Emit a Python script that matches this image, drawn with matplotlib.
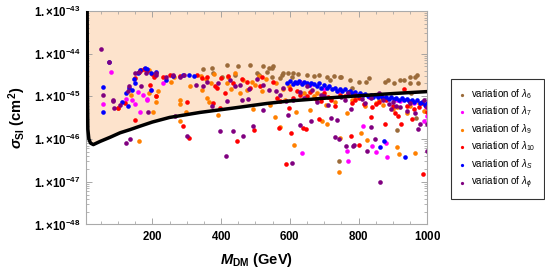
import matplotlib
matplotlib.use("Agg")
import matplotlib.pyplot as plt
from matplotlib.ticker import MultipleLocator, LogLocator, NullFormatter, FixedLocator

plt.rcParams.update({
    "font.family": "Liberation Sans",
    "mathtext.fontset": "custom",
    "mathtext.rm": "Liberation Sans",
    "mathtext.it": "Liberation Sans:italic",
    "mathtext.bf": "Liberation Sans:bold",
    "mathtext.bfit": "Liberation Sans:bold:italic",
})

SCALE = 1e-46  # sigma values below are in units of 1e-46 cm^2

# limit curve
curve_m = [10, 10.5, 11, 12, 15, 20, 28, 48, 77, 106, 135, 164, 200, 250, 339, 435, 533, 600, 700, 800, 900, 1000]
curve_s = [1000, 72, 8.3, 1.7, 1.0, 0.8, 0.74, 0.88, 1.1, 1.4, 1.66, 2.0, 2.5, 3.2, 4.2, 5.3, 6.8, 7.8, 9.0, 10.3, 11.6, 12.9]

# variation of lambda_6 (brown)
m6 = [348, 373, 376, 402, 416, 440, 450, 484, 503, 510, 523, 533, 540, 547, 547, 552, 570, 576, 581, 595,
      605, 610, 625, 630, 649, 669, 685, 709, 717, 728, 746, 748, 774, 781, 801, 823, 830, 878, 886, 903,
      920, 932, 950, 951, 953, 964, 969, 973, 743, 912, 966]
s6 = [43, 46, 36, 29, 55, 32, 50, 55, 35, 32, 50, 38, 46, 46, 29, 52, 27, 32, 35, 35,
      29, 36, 33, 22, 32, 30, 32, 29, 24.5, 30, 28, 28, 24.5, 15.6, 22, 22, 27, 22, 24.5, 21,
      24.5, 24.5, 28, 21, 12, 29, 32, 21, 0.31, 1.66, 3.1]

# variation of lambda_7 (magenta)
m7 = [79, 55, 124, 141, 148, 157, 165, 174, 184, 185, 195, 232, 629, 635, 660, 700, 740, 765, 768, 790,
      813, 830, 840, 850, 880, 881, 883, 911, 920, 960, 990, 995, 1000]
s7 = [38, 6.7, 8.6, 8.3, 6.7, 12.3, 4.4, 10.9, 8.3, 8.6, 14, 21, 22, 0.48, 18, 15, 13, 0.51, 0.31, 11,
      2.0, 9.5, 0.70, 0.5, 8.5, 0.79, 0.38, 8, 7.8, 7, 2.6, 5.5, 3.5]

# variation of lambda_9 (orange)
m9 = [99, 138, 160, 190, 191, 201, 211, 211, 216, 254, 262, 279, 281, 281, 298, 308, 340, 355, 358, 366,
      380, 392, 416, 420, 440, 465, 474, 489, 494, 510, 530, 542, 557, 560, 571, 580, 598, 612, 618, 658,
      680, 694, 704, 709, 720, 744, 746, 767, 780, 806, 820, 825, 850, 870, 900, 911, 912, 918, 950, 964, 990,
      345, 370, 430, 455, 500, 520, 585, 640, 670, 730, 790, 860, 940, 975]
s9 = [5.3, 10.9, 0.88, 12, 42, 4.4, 7.2, 10, 13, 22, 28, 8.3, 6.7, 2.7, 4.2, 17, 30, 25, 9, 7.2,
      33, 3.7, 20, 28, 35, 24.5, 14, 22, 5, 30, 25, 6.3, 3.3, 20, 1.9, 15, 17, 0.74, 4.4, 4.9,
      12, 2.6, 6.3, 2.3, 9, 0.17, 1.03, 4, 8, 1.4, 6, 0.93, 7, 6.4, 5, 5.6, 0.65, 0.45, 6, 0.46, 4.5,
      14, 20, 15, 12, 18, 13, 8, 12, 10, 7.5, 9, 8, 4, 7]

# variation of lambda_10 (red)
m10 = [99, 119, 148, 148, 160, 167, 175, 185, 194, 200, 206, 211, 230, 250, 280, 288, 300, 306, 330, 345,
       358, 377, 382, 387, 397, 400, 411, 420, 435, 445, 460, 474, 484, 496, 513, 520, 550, 562, 569, 570,
       589, 598, 600, 604, 620, 639, 648, 650, 685, 690, 700, 720, 760, 777, 780, 800, 801, 835, 840, 850,
       878, 880, 900, 914, 923, 932, 960, 988, 1000,
       610, 630, 660, 675, 710, 730, 745, 790, 815, 860, 870, 905, 940, 955, 975, 985, 995]
s10 = [5.3, 7, 2.8, 27, 38, 42, 44, 40, 18, 33, 29, 10.3, 29, 31, 30, 2.0, 7.2, 1.06, 32, 27,
       29, 7, 17, 16, 5.3, 27, 12, 30, 20, 0.88, 26, 22, 16, 1.6, 17, 28, 22, 9, 1.8, 7.6,
       0.26, 5.2, 15, 1.4, 13, 1.8, 1.7, 10, 3, 7.7, 12, 8, 10, 1.15, 7, 9, 0.74, 3.3, 5.6, 6.5,
       2.2, 8, 5.8, 3.5, 2.2, 15, 5, 0.15, 4.2,
       9, 11, 12.5, 8.5, 9.5, 6, 11, 8, 6.5, 7.5, 9, 4, 6, 3, 5.5, 7, 6]

# variation of lambda_S (blue)
mS = [55, 56, 73, 112, 124, 128, 133, 140, 145, 150, 157, 165, 177, 185, 196, 196, 210, 240, 260, 288,
      307, 322,
      592, 600, 608, 615, 620, 628, 635, 642, 649, 655, 662, 670, 678, 685, 692, 700, 708, 715, 722, 730,
      738, 745, 752, 760, 768, 775, 782, 790, 798, 805, 812, 820, 828, 835, 842, 850, 858, 865, 872, 880,
      888, 895, 902, 910, 918, 925, 932, 940, 948, 955, 962, 970, 978, 985, 992, 998,
      862, 874, 935]
sS = [16.5, 4.4, 64, 7.2, 12, 6, 15.6, 14, 25, 20, 35, 42, 46, 44, 35, 13.7, 38, 24.5, 30, 32,
      32, 30,
      21, 23, 19, 22, 20, 23, 19, 22, 20, 18, 21, 19, 17, 20, 16, 18, 15.5, 17, 14.5, 16,
      13.5, 15, 13, 14.5, 12.5, 13.5, 12, 12.8, 11, 12, 10.5, 11.5, 10, 11, 9.5, 10.5, 9.6, 10.4, 9.2, 9.8,
      8.8, 9.5, 8.6, 9.2, 8.2, 9, 8, 8.6, 7.6, 8.3, 7.2, 8, 6.8, 7.5, 6.3, 6.8,
      0.64, 0.88, 0.37]

# variation of lambda_phi (purple)
mP = [50, 55, 75, 85, 85, 89, 106, 124, 128, 133, 136, 148, 162, 167, 182, 187, 211, 211, 240, 259,
      267, 279, 293, 302, 327, 348, 373, 397, 413, 416, 435, 440, 460, 463, 478, 492, 521, 523, 540, 571,
      590, 594, 607, 610, 629, 630, 651, 663, 700, 712, 720, 730, 738, 744, 760, 762, 779, 784, 788, 790,
      820, 825, 836, 847, 860, 862, 893, 900, 910, 940, 972, 980, 998, 998, 1000,
      360, 390, 425, 455, 480, 505, 560, 580, 640, 665, 680, 690, 750, 770, 810, 835, 870, 890, 920, 950, 965, 990]
sP = [127, 10.5, 62, 8.0, 7.6, 5.2, 6.1, 0.79, 13, 17, 1.02, 35, 38, 17, 35, 4.4, 36, 32, 29, 32,
      3.5, 29, 32, 1.2, 18.6, 17, 5.8, 1.57, 0.39, 7.6, 1.5, 17, 8.3, 1.2, 8.8, 2.0, 4.7, 18.6, 14, 11,
      7.7, 3.6, 0.27, 8.3, 2.1, 12.8, 17, 2.6, 10, 6.3, 3.1, 1.1, 2.8, 1.0, 8, 0.70, 5.1, 0.70, 0.74, 11,
      7, 0.51, 1.9, 1.0, 12, 0.097, 5, 7.5, 6, 4.5, 1.75, 2.3, 0.51, 5.5, 2.2,
      22, 20, 24, 18, 15, 26, 13, 16, 9, 14, 7.5, 11, 9.5, 12, 8.5, 9, 8, 6.5, 5.5, 7, 4, 8]

series = [
    (m6, s6, "#9b6b3a", r"variation of $\lambda_6$"),
    (m7, s7, "#ff00ff", r"variation of $\lambda_7$"),
    (m9, s9, "#ff8000", r"variation of $\lambda_9$"),
    (m10, s10, "#ff0000", r"variation of $\lambda_{10}$"),
    (mS, sS, "#0000ff", r"variation of $\lambda_S$"),
    (mP, sP, "#800080", r"variation of $\lambda_\phi$"),
]

fig = plt.figure(figsize=(5.45, 2.73), dpi=100)
ax = fig.add_axes([0.158, 0.178, 0.626, 0.782])

cs = [v * SCALE for v in curve_s]
ax.fill_between(curve_m, cs, 1e-43, color="#fde3cc", lw=0, zorder=0)
ax.plot(curve_m, cs, color="black", lw=2.5, zorder=3, solid_capstyle="butt")

handles = []
for m, s, col, lab in series:
    h = ax.scatter(m, [v * SCALE for v in s], s=11, color=col, lw=0, zorder=2, label=lab)
    handles.append(h)

ax.set_yscale("log")
ax.set_xlim(7, 1000)
ax.set_ylim(1e-48, 1e-43)

ax.xaxis.set_major_locator(FixedLocator([200, 400, 600, 800, 1000]))
ax.xaxis.set_minor_locator(MultipleLocator(50))
ax.yaxis.set_minor_locator(LogLocator(base=10, subs=range(2, 10), numticks=20))
ax.yaxis.set_minor_formatter(NullFormatter())
ax.set_xticklabels([r"$\mathbf{%d}$" % v for v in [200, 400, 600, 800, 1000]])
ax.set_yticks([10.0 ** e for e in range(-48, -42)])
ax.set_yticklabels([r"$\mathbf{1.{\times}10^{%d}}$" % e for e in range(-48, -42)])

ax.tick_params(which="both", direction="in", top=True, right=True, color="#999999", labelsize=8.3, pad=4)
ax.tick_params(which="major", length=4, width=0.6)
ax.tick_params(which="minor", length=2, width=0.5)
for sp in ax.spines.values():
    sp.set_color("#aaaaaa")
    sp.set_linewidth(0.8)

ax.set_xlabel(r"$\mathbfit{M}_{\mathbf{DM}}$ $\mathbf{(GeV)}$", fontsize=10.5, labelpad=6)
ax.set_ylabel(r"$\mathbfit{\sigma}_{\mathbf{SI}}$ $\mathbf{(cm^2)}$", fontsize=10.5, labelpad=4)

leg = fig.legend(handles=handles, loc="upper left", bbox_to_anchor=(0.8275, 0.711), fontsize=7,
                 frameon=True, fancybox=False, edgecolor="black", markerscale=0.7, borderaxespad=0,
                 handletextpad=0.65, handlelength=0.6, labelspacing=0.38, borderpad=0.85)
leg.get_frame().set_linewidth(0.8)

fig.savefig("out.png", dpi=100)
